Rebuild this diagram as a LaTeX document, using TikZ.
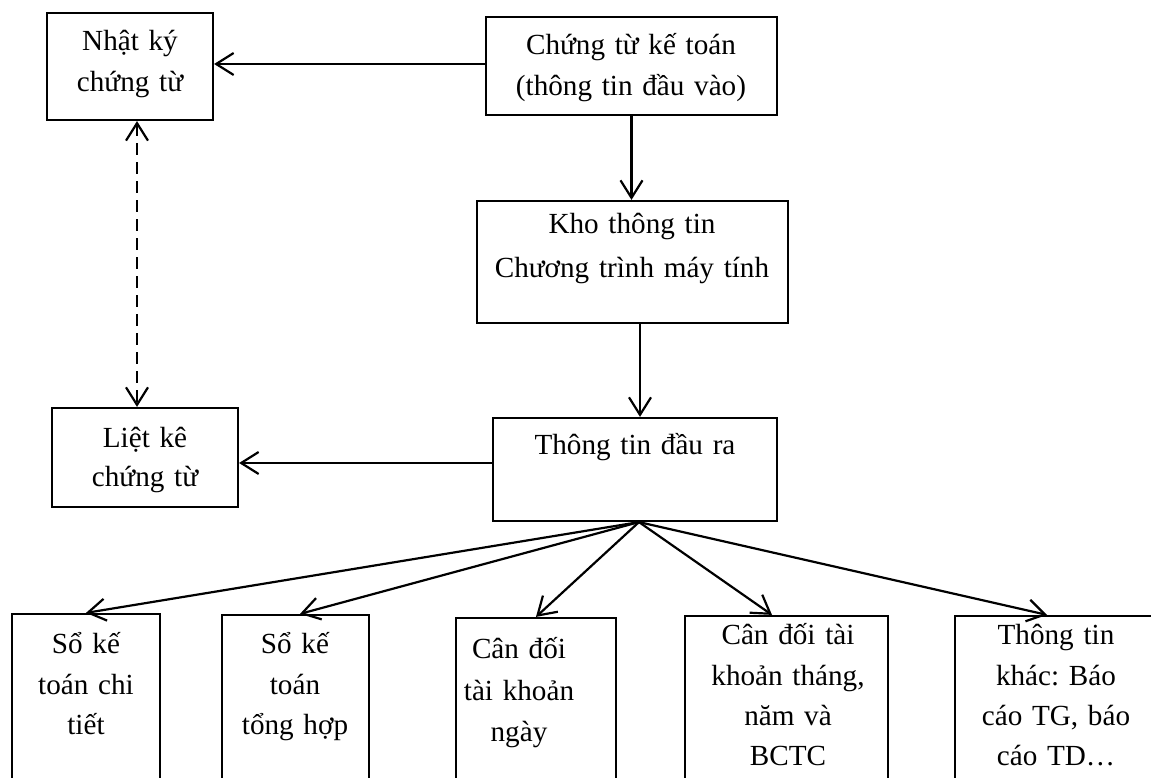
\documentclass[tikz,border=0pt]{standalone}
\usepackage{fontspec}
\setmainfont{Liberation Serif}
\usetikzlibrary{arrows.meta}
\frenchspacing
\tikzset{
  box/.style={draw, line width=1.25pt, inner sep=0pt, rectangle},
  lbl/.style={anchor=base, align=center, text width=7cm, inner sep=0pt,
    font=\fontsize{16.6pt}{20.5pt}\selectfont},
  link/.style={line width=1.25pt, -{Straight Barb[length=3.5mm,width=4.4mm]}},
  duallink/.style={line width=1.25pt, dash pattern=on 0.24cm off 0.14cm,
    {Straight Barb[length=3.5mm,width=4.4mm]}-{Straight Barb[length=3.5mm,width=4.4mm]}},
}
\begin{document}
\begin{tikzpicture}[x=0.2mm,y=-0.2mm]
\useasboundingbox (0,0) rectangle (1151,778);
\clip (0,0) rectangle (1151,778);

% upper part
\node[box, minimum width=166*0.2mm, minimum height=107*0.2mm] (nk)  at (130,66.5) {};
\node[box, minimum width=291*0.2mm, minimum height=98*0.2mm]  (cht) at (631.5,66) {};
\node[box, minimum width=311*0.2mm, minimum height=122*0.2mm] (kho) at (632.5,262) {};
\node[box, minimum width=284*0.2mm, minimum height=103*0.2mm] (tt)  at (635,469.5) {};
\node[box, minimum width=186*0.2mm, minimum height=99*0.2mm]  (lk)  at (145,457.5) {};

\node[lbl] (nkt)  at (130,51)  {Nhật ký\\[0.08cm]chứng từ};
\node[lbl] (chtt) at (631,55)  {Chứng từ kế toán\\[0.08cm](thông tin đầu vào)};
\node[lbl] (khot) at (632,234) {Kho thông tin\\[0.14cm]Chương trình máy tính};
\node[lbl] (ttt)  at (635,455) {Thông tin đầu ra};
\node[lbl] (lkt)  at (145,448) {Liệt kê\\[0.04cm]chứng từ};

% lower row (open at the bottom edge)
\node[box, minimum width=148*0.2mm, minimum height=206*0.2mm] (b1) at (86,717) {};
\node[box, minimum width=147*0.2mm, minimum height=205*0.2mm] (b2) at (295.5,717.5) {};
\node[box, minimum width=160*0.2mm, minimum height=202*0.2mm] (b3) at (536,719) {};
\node[box, minimum width=203*0.2mm, minimum height=204*0.2mm] (b4) at (786.5,718) {};
\node[box, minimum width=215*0.2mm, minimum height=204*0.2mm] (b5) at (1062.5,718) {};

\node[lbl] (b1t) at (86,654)  {Sổ kế\\[0.08cm]toán chi\\[0.08cm]tiết};
\node[lbl] (b2t) at (295,654) {Sổ kế\\[0.08cm]toán\\[0.08cm]tổng hợp};
\node[lbl] (b3t) at (519,659) {Cân đối\\[0.1cm]tài khoản\\[0.1cm]ngày};
\node[lbl] (b4t) at (788,645) {Cân đối tài\\[0.08cm]khoản tháng,\\[0.08cm]năm và\\[0.08cm]BCTC};
\node[lbl] (b5t) at (1056,645) {Thông tin\\[0.08cm]khác: Báo\\[0.08cm]cáo TG, báo\\[0.08cm]cáo TD…};

% helper positions for straight runs
\coordinate (r1) at (0,64);
\coordinate (r2) at (0,463);
\coordinate (c2) at (640,0);
\coordinate (c3) at (137,0);

% connectors
\draw[link] (cht.west |- r1) -- (nk.east |- r1);
\draw[link] (cht.south) -- (cht.south |- kho.north);
\draw[link] (kho.south -| c2) -- (tt.north -| c2);
\draw[link] (tt.west |- r2) -- (lk.east |- r2);
\draw[duallink] (nk.south -| c3) -- (lk.north -| c3);

\draw[link] ([xshift=0.08cm]tt.south) -- (b1.north);
\draw[link] ([xshift=0.08cm]tt.south) -- ([xshift=0.09cm]b2.north);
\draw[link] ([xshift=0.08cm]tt.south) -- (b3.north);
\draw[link] ([xshift=0.08cm]tt.south) -- ([xshift=-0.29cm]b4.north);
\draw[link] ([xshift=0.08cm]tt.south) -- ([xshift=-0.31cm]b5.north);
\end{tikzpicture}
\end{document}
